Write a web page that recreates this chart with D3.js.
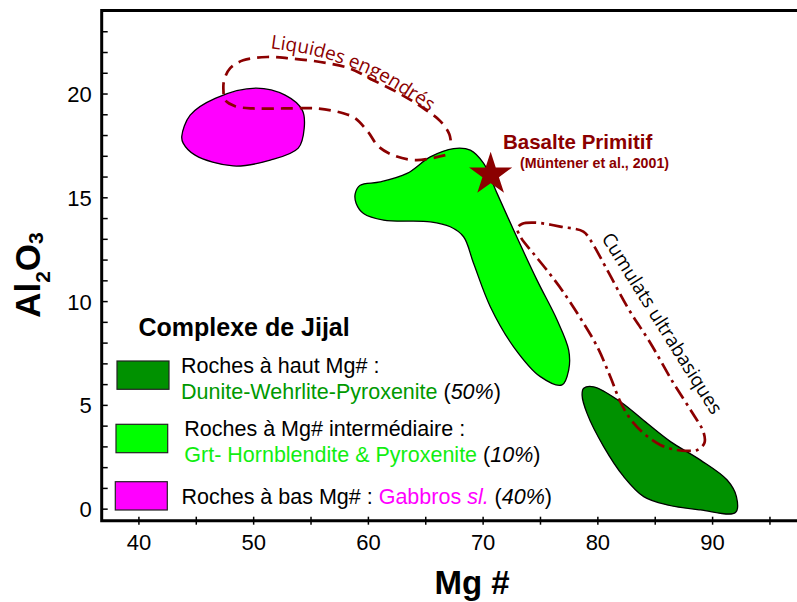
<!DOCTYPE html>
<html>
<head>
<meta charset="utf-8">
<script src="https://cdn.jsdelivr.net/npm/d3@7"></script>
<style>
  body { margin: 0; background: #fff; }
  svg { display: block; }
</style>
</head>
<body>
<svg id="chart" width="797" height="602"></svg>
<script>
// ---- Data (Mg#, Al2O3 wt%) ----
const xTicks = [40, 45, 50, 55, 60, 65, 70, 75, 80, 85, 90, 95];
const xTickLabels = [40, 50, 60, 70, 80, 90];
const yTicks = [0, 1, 2, 3, 4, 5, 6, 7, 8, 9, 10, 11, 12, 13, 14, 15, 16, 17, 18, 19, 20, 21, 22, 23];
const yTickLabels = [0, 5, 10, 15, 20];

// Low-Mg# rocks: gabbros
const gabbroOutline = [
  [43.78, 17.94], [44.51, 18.96], [46.69, 19.77], [50.26, 20.26], [52.79, 19.92],
  [54.28, 19.20], [54.45, 18.33], [53.93, 17.37], [51.49, 16.79], [48.26, 16.51],
  [44.94, 17.03], [43.90, 17.61]
];

// Intermediate-Mg# rocks: Grt-hornblendite & pyroxenite
const intermediateOutline = [
  [58.90, 15.19], [59.33, 15.58], [61.07, 15.74], [63.41, 16.15], [65.44, 16.95],
  [67.47, 17.35], [68.93, 17.27], [70.09, 16.63], [71.26, 15.19], [72.70, 13.42],
  [74.74, 11.01], [76.49, 9.09], [77.50, 7.64], [77.50, 6.68], [76.92, 5.96],
  [75.03, 6.36], [72.70, 7.80], [70.67, 9.73], [69.21, 11.82], [68.34, 13.10],
  [67.18, 13.58], [65.44, 13.82], [61.37, 13.90], [59.62, 14.22], [58.98, 14.70]
];

// High-Mg# rocks: dunite-wehrlite-pyroxenite
const highMgOutline = [
  [78.81, 5.80], [79.68, 5.87], [82.01, 5.15], [84.34, 4.11], [86.37, 3.23],
  [88.99, 2.34], [91.31, 1.38], [92.12, 0.58], [92.04, -0.19], [88.99, -0.06],
  [86.08, 0.18], [84.04, 0.58], [82.30, 1.54], [80.55, 2.99], [79.10, 4.59],
  [78.67, 5.47]
];

// Derived liquids trend (open dashed curve)
const liquidTrend = [
  [66.75, 17.03], [64.22, 16.79], [62.21, 17.03], [60.90, 17.46], [60.03, 18.14],
  [58.90, 18.81], [57.85, 19.05], [55.58, 19.28], [52.62, 19.28], [50.00, 19.28],
  [48.43, 19.39], [47.56, 19.68], [47.41, 20.16], [47.47, 20.64], [48.00, 21.22],
  [49.13, 21.60], [51.22, 21.76], [53.23, 21.69], [55.85, 21.52], [58.46, 21.20],
  [60.47, 20.64], [62.56, 20.06], [64.57, 19.39], [66.31, 18.67], [67.10, 18.04],
  [67.27, 17.41]
];

// Ultrabasic cumulates field (closed dash-dot curve)
const cumulateField = [
  [73.03, 13.51], [73.46, 13.73], [74.59, 13.78], [76.77, 13.59], [78.78, 13.35],
  [79.39, 12.94], [80.87, 11.49], [82.62, 9.71], [84.62, 7.98], [86.63, 6.05],
  [88.29, 4.61], [89.25, 3.69], [89.33, 3.16], [88.72, 2.83], [87.94, 2.78],
  [86.89, 2.83], [85.49, 3.07], [84.01, 3.64], [82.88, 4.32], [82.01, 5.14],
  [81.14, 6.34], [80.00, 7.79], [78.52, 9.18], [77.04, 10.43], [75.73, 11.40],
  [74.33, 12.36], [73.37, 13.03]
];

// Primitive basalt (Müntener et al., 2001)
const primitiveBasalt = [70.7, 16.1];

// Baseline for the "Liquides engendrés" label
const liquidLabelPath = [
  [51.5, 22.18], [54.8, 21.89], [57.85, 21.41], [60.90, 20.69], [63.52, 19.82], [65.44, 19.10]
];

// ---- Chart ----
const svg = d3.select("#chart");
const x = d3.scaleLinear().domain([36.8, 97.4]).range([101.7, 797]);
const y = d3.scaleLinear().domain([-0.58, 24]).range([520.7, 10.5]);

const DARK_RED = "#8b0000";
const sansFont = "'Liberation Sans', Arial, Helvetica, sans-serif";
const labelFont = "'Open Sans', 'Noto Sans', sans-serif";

// Fields
const closedCurve = d3.line().x(d => x(d[0])).y(d => y(d[1]))
  .curve(d3.curveCatmullRomClosed.alpha(0.5));
const openCurve = d3.line().x(d => x(d[0])).y(d => y(d[1]))
  .curve(d3.curveCatmullRom.alpha(0.5));

svg.append("path").attr("d", closedCurve(gabbroOutline))
  .attr("fill", "#ff00ff").attr("stroke", "#000").attr("stroke-width", 1.3);
svg.append("path").attr("d", closedCurve(intermediateOutline))
  .attr("fill", "#00ff00").attr("stroke", "#000").attr("stroke-width", 1.3);
svg.append("path").attr("d", closedCurve(highMgOutline))
  .attr("fill", "#009100").attr("stroke", "#000").attr("stroke-width", 1.3);

// Trends
svg.append("path").attr("d", openCurve(liquidTrend))
  .attr("fill", "none").attr("stroke", DARK_RED).attr("stroke-width", 2.7)
  .attr("stroke-dasharray", "12,7");
svg.append("path").attr("d", closedCurve(cumulateField))
  .attr("fill", "none").attr("stroke", DARK_RED).attr("stroke-width", 2.7)
  .attr("stroke-dasharray", "14,5,3,5");

// Trend labels
svg.append("path").attr("id", "liqPath").attr("d", openCurve(liquidLabelPath))
  .attr("fill", "none");
svg.append("text")
  .attr("font-family", labelFont).attr("font-size", 19).attr("fill", DARK_RED)
  .append("textPath").attr("href", "#liqPath").text("Liquides engendrés");

svg.append("text")
  .attr("transform", `translate(${x(85.67)},${y(8.94)}) rotate(58)`)
  .attr("text-anchor", "middle").attr("dominant-baseline", "central")
  .attr("font-family", labelFont).attr("font-size", 19).attr("fill", "#000")
  .text("Cumulats ultrabasiques");

// Primitive basalt star
svg.append("path")
  .attr("d", d3.symbol(d3.symbolStar).size(580)())
  .attr("transform", `translate(${x(primitiveBasalt[0])},${y(primitiveBasalt[1])})`)
  .attr("fill", DARK_RED);
svg.append("text").attr("x", 503).attr("y", 148.5)
  .attr("font-family", sansFont).attr("font-weight", "bold").attr("font-size", 20.5)
  .attr("fill", DARK_RED).text("Basalte Primitif");
svg.append("text").attr("x", 520).attr("y", 168.3)
  .attr("font-family", sansFont).attr("font-weight", "bold").attr("font-size", 14.2)
  .attr("fill", DARK_RED).text("(Müntener et al., 2001)");

// Axes
const xAxis = svg.append("g").attr("transform", `translate(0,${y(-0.58)})`)
  .call(d3.axisBottom(x).tickValues(xTicks).tickSizeInner(4).tickSizeOuter(0)
    .tickFormat(d => xTickLabels.includes(d) ? d : ""));
xAxis.select(".domain").remove();
xAxis.selectAll(".tick line").attr("y1", -4).attr("stroke-width", 1.5);
xAxis.selectAll(".tick text").attr("y", 29).attr("dy", null)
  .attr("font-family", sansFont).attr("font-size", 22).attr("fill", "#000");

const yAxis = svg.append("g").attr("transform", `translate(${x(36.8)},0)`)
  .call(d3.axisLeft(y).tickValues(yTicks).tickSizeInner(-6).tickSizeOuter(0).tickPadding(10)
    .tickFormat(d => yTickLabels.includes(d) ? d : ""));
yAxis.select(".domain").remove();
yAxis.selectAll(".tick line").attr("stroke-width", 1.5);
yAxis.selectAll(".tick text").attr("dy", "0.36em")
  .attr("font-family", sansFont).attr("font-size", 22).attr("fill", "#000");

// Frame (top, left, bottom)
svg.append("path")
  .attr("d", `M${x(97.4) + 10},${y(24)}H${x(36.8)}V${y(-0.58)}H${x(97.4) + 10}`)
  .attr("fill", "none").attr("stroke", "#000").attr("stroke-width", 3);

// Axis titles
svg.append("text").attr("x", 472).attr("y", 594).attr("text-anchor", "middle")
  .attr("font-family", sansFont).attr("font-weight", "bold").attr("font-size", 33)
  .text("Mg #");

const yTitle = svg.append("text")
  .attr("transform", "translate(40,275) rotate(-90)").attr("text-anchor", "middle")
  .attr("font-family", sansFont).attr("font-weight", "bold").attr("font-size", 35);
yTitle.append("tspan").text("Al");
yTitle.append("tspan").attr("font-size", 21).attr("dy", 10).text("2");
yTitle.append("tspan").attr("dy", -10).text("O");
yTitle.append("tspan").attr("font-size", 21).attr("dy", 3).text("3");

// Legend
const legendTitle = "Complexe de Jijal";
const legendFills = ["#009100", "#00ff00", "#ff00ff"];

svg.append("text").attr("x", 138.5).attr("y", 335.7)
  .attr("font-family", sansFont).attr("font-weight", "bold").attr("font-size", 25)
  .text(legendTitle);

const boxes = [[117, 361, 52, 28.3], [116, 424.3, 51.7, 28.4], [115.3, 481.7, 52, 28.3]];
boxes.forEach((b, i) => {
  svg.append("rect").attr("x", b[0]).attr("y", b[1]).attr("width", b[2]).attr("height", b[3])
    .attr("fill", legendFills[i]).attr("stroke", "#222").attr("stroke-width", 1.2);
});

function legendLine(xp, yp, parts) {
  const t = svg.append("text").attr("x", xp).attr("y", yp)
    .attr("font-family", sansFont).attr("font-size", 21.5).attr("fill", "#000");
  parts.forEach(p => {
    const s = t.append("tspan").text(p.t);
    if (p.c) s.attr("fill", p.c);
    if (p.i) s.attr("font-style", "italic");
  });
}
legendLine(181, 372.5, [{ t: "Roches à haut Mg# :" }]);
legendLine(181, 399, [{ t: "Dunite-Wehrlite-Pyroxenite", c: "#009900" }, { t: " (" }, { t: "50%", i: true }, { t: ")" }]);
legendLine(184.3, 436, [{ t: "Roches à Mg# intermédiaire :" }]);
legendLine(184.3, 462, [{ t: "Grt- Hornblendite & Pyroxenite", c: "#11ee11" }, { t: " (" }, { t: "10%", i: true }, { t: ")" }]);
legendLine(181.5, 504, [{ t: "Roches à bas Mg# : " }, { t: "Gabbros ", c: "#ff00ff" }, { t: "sl.", c: "#ff00ff", i: true }, { t: " (" }, { t: "40%", i: true }, { t: ")" }]);
</script>
</body>
</html>
